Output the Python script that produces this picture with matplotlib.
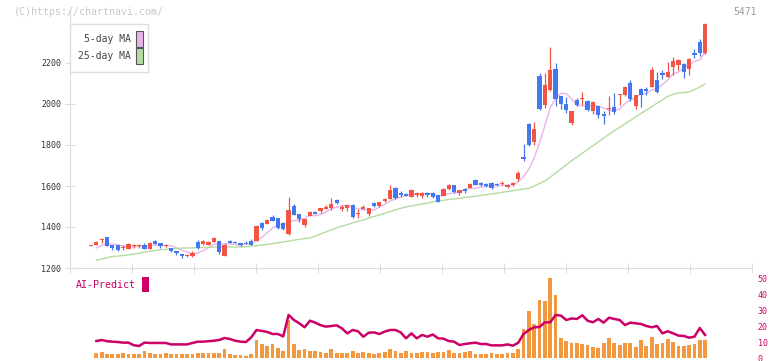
import numpy as np
import pandas as pd
import matplotlib
matplotlib.use('Agg')
import matplotlib.pyplot as plt
from matplotlib.patches import Rectangle
import matplotlib.transforms as mtransforms

# daily candles (index 0 .. 115), prices in yen
open_ = [1308,1312,1336,1351,1312,1312,1296,1293,1308,1308,1312,1293,1332,1322,1310,1298,1283,1268,1259,1259,
         1327,1317,1312,1327,1332,1259,1332,1327,1322,1323,1332,1332,1420,1415,1449,1444,1420,1366,1503,1463,
         1410,1454,1473,1478,1488,1493,1532,1488,1493,1507,1466,1488,1463,1517,1502,1527,1537,1590,1566,1561,
         1546,1559,1551,1566,1566,1556,1551,1585,1605,1566,1585,1590,1629,1615,1610,1615,1610,1613,1598,1605,
         1634,1741,1902,1815,2137,1995,2068,2171,2039,2000,1907,2020,2027,2015,1966,1990,1951,1978,1985,2042,
         2044,2103,1990,2073,2073,2083,2117,2151,2132,2180,2190,2195,2171,2249,2302,2249]
high = [1314,1330,1346,1353,1314,1314,1310,1322,1317,1315,1322,1327,1339,1324,1318,1300,1285,1270,1268,1283,
        1337,1337,1332,1351,1334,1322,1337,1330,1324,1330,1342,1410,1422,1440,1459,1446,1422,1546,1510,1465,
        1441,1478,1480,1495,1505,1541,1537,1505,1509,1512,1488,1505,1495,1520,1524,1541,1605,1595,1575,1566,
        1585,1571,1571,1571,1571,1558,1590,1610,1607,1582,1590,1615,1634,1620,1615,1620,1615,1622,1610,1620,
        1673,1805,1907,1912,2151,2151,2278,2200,2041,2034,1968,2029,2058,2020,2015,1992,1966,2039,2054,2049,
        2088,2117,2046,2078,2083,2180,2156,2166,2205,2229,2220,2200,2224,2268,2317,2395]
low = [1306,1310,1322,1305,1288,1283,1288,1291,1298,1300,1291,1291,1315,1300,1302,1278,1263,1250,1252,1252,
       1295,1310,1310,1325,1270,1257,1320,1320,1305,1315,1310,1330,1385,1413,1427,1390,1385,1360,1457,1425,
       1400,1452,1461,1468,1486,1483,1510,1478,1480,1444,1444,1486,1455,1500,1500,1520,1535,1537,1546,1549,
       1544,1546,1541,1546,1541,1520,1549,1580,1566,1556,1566,1588,1603,1600,1595,1585,1600,1605,1590,1600,
       1625,1722,1795,1800,1971,1980,2063,1990,1976,1956,1897,1990,1995,1966,1951,1931,1902,1946,1951,1995,
       2040,2015,1976,1985,2044,2081,2054,2122,2130,2141,2166,2127,2141,2224,2234,2244]
close = [1312,1327,1342,1307,1298,1290,1300,1317,1312,1312,1293,1322,1317,1307,1313,1283,1273,1259,1264,1273,
         1298,1332,1327,1346,1278,1312,1322,1322,1312,1320,1312,1405,1395,1434,1429,1395,1390,1483,1459,1439,
         1439,1473,1463,1493,1498,1512,1517,1498,1507,1449,1470,1498,1493,1502,1522,1537,1580,1541,1556,1551,
         1580,1563,1566,1556,1546,1522,1585,1605,1571,1580,1575,1610,1605,1605,1600,1590,1605,1616,1602,1615,
         1663,1732,1800,1878,1976,2093,2166,2024,2000,1971,1966,1995,2031,1971,2010,1946,1941,1982,1961,2046,
         2083,2024,2044,2044,2063,2166,2059,2141,2156,2210,2215,2156,2220,2239,2249,2390]

# 5-day MA for the first days (earlier closes not on the chart)
ma5_head = [1298, 1310, 1317]
# 25-day moving average (index 1 .. 115)
ma25 = [1238,1244,1250,1256,1258,1261,1264,1268,1272,1278,1282,1286,1289,1291,1293,1295,1297,1298,1298,1299,
        1300,1301,1302,1303,1304,1303,1302,1302,1304,1307,1309,1312,1315,1319,1323,1327,1331,1336,1340,1344,
        1346,1356,1366,1376,1386,1396,1404,1412,1420,1427,1435,1443,1451,1459,1467,1475,1483,1491,1498,1503,
        1508,1512,1517,1522,1527,1530,1534,1537,1540,1544,1547,1550,1554,1558,1561,1565,1569,1573,1577,1581,
        1585,1589,1600,1612,1625,1643,1663,1683,1703,1723,1741,1760,1778,1797,1815,1834,1852,1869,1886,1903,
        1920,1937,1954,1970,1987,2004,2020,2037,2047,2054,2056,2059,2070,2083,2097]

# AI-Predict panel (index 1 .. 115)
bars = [3.3,3.9,2.5,2.5,2.5,3.3,2.5,2.5,2.5,4.4, 2.9,2.5,2.5,3.3,2.5,2.5,2.5,2.5,2.5,3.4,
        3.4,3.0,3.0,3.0,5.8,2.3,1.9,1.9,1.5,2.5, 11.25,8.75,7.5,9.0,6.5,4.4,23.75,8.75,5.0,5.4,
        4.4,4.4,3.75,3.1,5.6,3.1,3.1,3.1,4.6,3.1, 3.5,3.3,2.7,3.1,3.75,5.6,4.6,3.1,4.2,3.1,
        3.1,3.9,3.5,3.1,3.5,3.5,4.8,3.1,3.1,3.9, 4.4,2.3,2.3,2.7,3.1,2.5,2.5,3.1,3.3,5.6,
        18.1,29.6,21.25,36.25,35.6,50,39.4,12.7,10.6,9.4, 9.4,8.75,8.1,7.1,6.5,9.4,12.7,9.4,8.1,9.4,
        9.4,7.1,11.25,7.7,13.1,8.75,9.4,11.9,10,7.7, 7.7,8.1,8.75,11.25,11.25]
ai_line = [10.6,11.25,10.5,10.2,10.0,9.6,9.6,8.0,7.5,9.6, 9.4,9.4,9.4,9.4,8.5,8.5,8.5,8.5,9.4,10.2,
           10.2,10.5,10.8,11.25,12.5,11.9,10.8,10.2,10.0,12.9, 17.5,16.9,16.3,15.0,15.0,13.5,26.9,23.75,21.7,19.2,
           23.3,22.1,20.5,19.6,20.0,20.4,18.5,15.4,17.5,16.7, 13.3,15.8,16.0,15.0,16.5,17.5,17.5,16.0,12.3,15.4,
           12.3,14.4,13.3,14.7,12.3,12.1,10.6,10.2,8.1,8.75, 9.2,9.6,8.75,8.75,7.9,7.9,7.9,8.5,7.7,9.5,
           15.0,17.5,19.2,19.4,22.3,22.3,26.9,26.5,23.75,24.7, 24.4,26.7,23.3,22.3,24.4,22.1,25.2,24.4,23.75,20.6,
           22.1,21.7,21.25,20.0,19.2,20.0,15.4,16.7,15.4,14.0, 13.8,12.7,13.3,18.75,14.4]

date_labels = ['9/29','10/14','10/28','11/12','11/27','12/11','12/25','1/14','1/28','2/12','2/27']
date_pos = [15,25,35,45,55,65,75,85,95,105,115]

RED, BLUE = '#f25544', '#4478ee'
PINK, GREEN = '#e8b4ea', '#b4dca2'
MAG, ORANGE = '#cc0066', '#f29840'
MONO = 'DejaVu Sans Mono'

W, H = 772, 361
fig = plt.figure(figsize=(W/100, H/100), dpi=100)
def box(l, t, r, b):
    return [l/W, 1-b/H, (r-l)/W, (b-t)/H]

ax = fig.add_axes(box(70, 10, 752, 268))
axb = fig.add_axes(box(70, 278, 752, 358))

o = np.array(open_, float); c = np.array(close, float)
hi = np.array(high, float); lo = np.array(low, float)
idx = np.arange(len(c))
col = np.where(c >= o, RED, BLUE)
ax.vlines(idx, lo, hi, colors=col, lw=0.9, zorder=2)
body = np.maximum(np.abs(c-o), 5)
mid = (c+o)/2
ax.bar(idx, body, 0.8, bottom=mid-body/2, color=col, linewidth=0, zorder=3)

ma5 = pd.Series(c).rolling(5).mean()
ma5[1:4] = ma5_head
ax.plot(idx, ma5, color=PINK, lw=1, zorder=1)
ax.plot(idx[1:], ma25, color=GREEN, lw=1, zorder=1)

# pixel layout: first candle at x=91, 5.34 px per day
x0, x1 = (70-91)/5.34, (752-91)/5.34
ax.set_xlim(x0, x1)
ax.set_ylim(1200, 1200+(268-10)*200/41)
for s in ['top', 'right']:
    ax.spines[s].set_visible(False)
for s in ['left', 'bottom']:
    ax.spines[s].set_color('#dddddd')
ax.set_yticks(range(1200, 2201, 200))
ax.set_yticklabels([str(v) for v in range(1200, 2201, 200)], fontsize=6, color='#333333', family=MONO)
ax.tick_params(axis='y', direction='inout', length=7, color='#dddddd', pad=3)
ax.set_xticks(np.linspace(x0, x1, 12))
ax.set_xticklabels([])
ax.tick_params(axis='x', direction='inout', length=7, color='#dddddd')
tr = mtransforms.blended_transform_factory(ax.transData, fig.transFigure)
for p, lab in zip(date_pos, date_labels):
    ax.text(p, 1-283/H, lab, transform=tr, ha='center', va='center', fontsize=6.5, color='#444444', family=MONO)

# legend box
fig.add_artist(Rectangle((70/W, 1-72/H), 78/W, 48/H, transform=fig.transFigure,
                         fc='white', ec='#dddddd', lw=1, zorder=5))
for yy, lab, fc in [(39, '5-day MA', PINK), (56, '25-day MA', GREEN)]:
    fig.text(131/W, 1-yy/H, lab, ha='right', va='center', fontsize=7, color='#444444', family=MONO, zorder=6)
    fig.add_artist(Rectangle((136/W, 1-(yy+7.5)/H), 6.5/W, 15/H, transform=fig.transFigure,
                             fc=fc, ec='#555555', lw=0.8, zorder=6))

fig.text(14/W, 1-12/H, '(C)https://chartnavi.com/', ha='left', va='center', fontsize=7.2, color='#c8c8c8', family=MONO)
fig.text(757/W, 1-12/H, '5471', ha='right', va='center', fontsize=7, color='#999999', family=MONO)

# AI-Predict panel
k = np.arange(1, len(bars)+1)
axb.bar(k, bars, 0.7, color=ORANGE, linewidth=0)
axb.plot(k, ai_line, color=MAG, lw=1.8)
axb.set_xlim(x0, x1)
axb.set_ylim(0, 50)
for s in axb.spines.values():
    s.set_visible(False)
axb.set_xticks([])
axb.yaxis.tick_right()
axb.set_yticks(range(0, 51, 10))
axb.set_yticklabels([str(v) for v in range(0, 51, 10)], fontsize=6, color=MAG, family=MONO)
axb.tick_params(axis='y', length=0, pad=4)
fig.text(76/W, 1-285/H, 'AI-Predict', ha='left', va='center', fontsize=7.2, color=MAG, family=MONO)
fig.add_artist(Rectangle((142/W, 1-292/H), 7/W, 15/H, transform=fig.transFigure, fc=MAG, ec='none'))

fig.savefig('out.png', dpi=100)
